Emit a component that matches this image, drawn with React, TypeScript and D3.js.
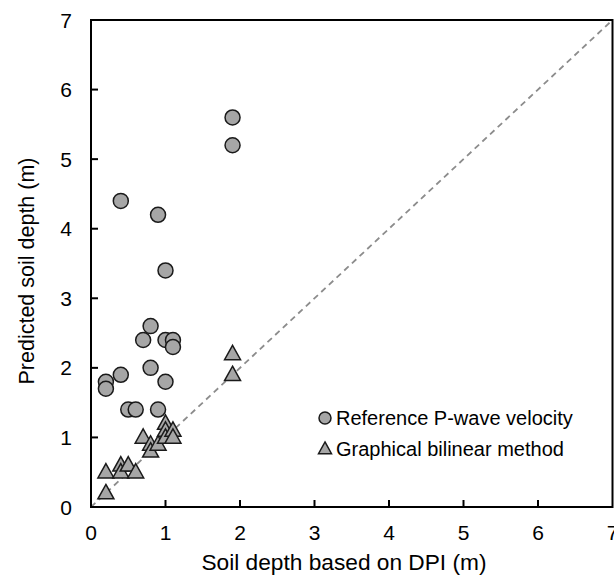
import React from "react";
import * as d3 from "d3";

const refX = [0.2, 0.2, 0.4, 0.4, 0.5, 0.6, 0.7, 0.8, 0.8, 0.9, 0.9, 1.0, 1.0, 1.0, 1.1, 1.1, 1.9, 1.9];
const refY = [1.8, 1.7, 1.9, 4.4, 1.4, 1.4, 2.4, 2.6, 2.0, 4.2, 1.4, 3.4, 2.4, 1.8, 2.4, 2.3, 5.6, 5.2];
const gbX = [0.2, 0.2, 0.4, 0.4, 0.5, 0.6, 0.7, 0.8, 0.8, 0.9, 1.0, 1.0, 1.0, 1.1, 1.1, 1.9, 1.9];
const gbY = [0.5, 0.2, 0.6, 0.5, 0.6, 0.5, 1.0, 0.9, 0.8, 0.9, 1.2, 1.1, 1.0, 1.1, 1.0, 2.2, 1.9];
const ticks = [0, 1, 2, 3, 4, 5, 6, 7];
const seriesNames = ["Reference P-wave velocity", "Graphical bilinear method"];

export default function App() {
  const W = 614, H = 577;
  const L = 91, R = 612.5, T = 20, B = 507;
  const x = d3.scaleLinear().domain([0, 7]).range([L, R]);
  const y = d3.scaleLinear().domain([0, 7]).range([B, T]);
  const font = "Liberation Sans, Arial, sans-serif";
  const fill = "#a6a6a6";
  const stroke = "#1a1a1a";
  const tri = (cx: number, cy: number, s: number) => {
    const h = s * 0.9;
    return `M${cx},${cy - h * 0.6}L${cx + s / 2},${cy + h * 0.4}L${cx - s / 2},${cy + h * 0.4}Z`;
  };
  return (
    <svg width={W} height={H} style={{ position: "absolute", left: 0, top: 0, background: "#fff" }}>
      <rect x={0} y={0} width={W} height={H} fill="#fff" />
      <line x1={x(0)} y1={y(0)} x2={x(7)} y2={y(7)} stroke="#8c8c8c" strokeWidth={1.8} strokeDasharray="6,4.5" />
      {refX.map((v, i) => (
        <circle key={"c" + i} cx={x(v)} cy={y(refY[i])} r={7.5} fill={fill} stroke={stroke} strokeWidth={1.5} />
      ))}
      {gbX.map((v, i) => (
        <path key={"t" + i} d={tri(x(v), y(gbY[i]), 16)} fill={fill} stroke={stroke} strokeWidth={1.5} strokeLinejoin="miter" />
      ))}
      <rect x={L} y={T} width={R - L} height={B - T} fill="none" stroke="#000" strokeWidth={2} />
      {ticks.map((t) => (
        <g key={"x" + t}>
          {t > 0 && t < 7 && <line x1={x(t)} x2={x(t)} y1={B} y2={B - 7} stroke="#000" strokeWidth={2} />}
          <text x={x(t)} y={540} textAnchor="middle" fontFamily={font} fontSize={21}>{t}</text>
        </g>
      ))}
      {ticks.map((t) => (
        <g key={"y" + t}>
          {t > 0 && t < 7 && <line x1={L} x2={L + 7} y1={y(t)} y2={y(t)} stroke="#000" strokeWidth={2} />}
          <text x={L - 19} y={y(t) + 7.5} textAnchor="end" fontFamily={font} fontSize={21}>{t}</text>
        </g>
      ))}
      <text x={344} y={570} textAnchor="middle" fontFamily={font} fontSize={22.7}>Soil depth based on DPI (m)</text>
      <text transform={`translate(34,271) rotate(-90)`} textAnchor="middle" fontFamily={font} fontSize={21.5}>Predicted soil depth (m)</text>
      <circle cx={325} cy={418} r={6} fill={fill} stroke={stroke} strokeWidth={1.5} />
      <text x={336} y={425} fontFamily={font} fontSize={20}>{seriesNames[0]}</text>
      <path d={tri(325, 449, 13)} fill={fill} stroke={stroke} strokeWidth={1.5} />
      <text x={336} y={456} fontFamily={font} fontSize={20}>{seriesNames[1]}</text>
    </svg>
  );
}
